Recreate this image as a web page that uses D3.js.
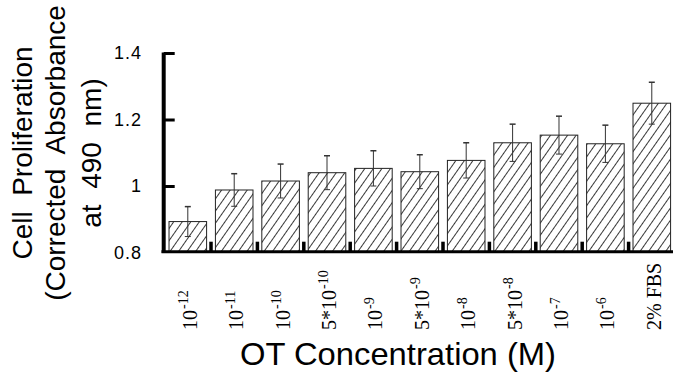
<!DOCTYPE html>
<html>
<head>
<meta charset="utf-8">
<script src="https://cdn.jsdelivr.net/npm/d3@7"></script>
<style>
  body { margin: 0; background: #fff; }
  svg { display: block; }
</style>
</head>
<body>
<svg id="chart" width="673" height="373"></svg>
<script>
// concentrations on the x axis: base text + superscript
var categories = ["1e-12", "1e-11", "1e-10", "5e-10", "1e-9", "5e-9", "1e-8", "5e-8", "1e-7", "1e-6", "FBS"];
var labelBase = ["10", "10", "10", "5*10", "10", "5*10", "10", "5*10", "10", "10", "2% FBS"];
var labelSup = ["-12", "-11", "-10", "-10", "-9", "-9", "-8", "-8", "-7", "-6", ""];
// corrected absorbance, mean and error
var means = [0.893, 0.988, 1.015, 1.040, 1.053, 1.043, 1.077, 1.130, 1.153, 1.127, 1.249];
var errors = [0.045, 0.049, 0.051, 0.051, 0.053, 0.051, 0.053, 0.056, 0.057, 0.056, 0.063];
var yTicks = [0.8, 1, 1.2, 1.4];
var yTitle = ["Cell  Proliferation", "(Corrected  Absorbance", "at  490  nm)"];
var xTitle = "OT Concentration (M)";

var svg = d3.select("#chart");

var x = d3.scaleBand()
    .domain(categories)
    .range([160.2, 679.4])
    .paddingInner(0.19)
    .paddingOuter(0.19);

var y = d3.scaleLinear()
    .domain([0.8, 1.4])
    .range([252.5, 53]);

// hatch pattern
var defs = svg.append("defs");
defs.append("pattern")
    .attr("id", "hatch")
    .attr("patternUnits", "userSpaceOnUse")
    .attr("width", 7)
    .attr("height", 7)
    .attr("patternTransform", "rotate(35)")
  .append("line")
    .attr("x1", 3.5).attr("y1", -1)
    .attr("x2", 3.5).attr("y2", 8)
    .style("stroke", "#222")
    .style("stroke-width", 0.9);

var g_bars = svg.append("g");
g_bars.selectAll("rect")
    .data(means)
    .enter().append("rect")
    .attr("x", function(d, i) { return x(categories[i]); })
    .attr("y", function(d) { return y(d); })
    .attr("width", x.bandwidth())
    .attr("height", function(d) { return y(0.8) - y(d); })
    .style("fill", "url(#hatch)")
    .style("stroke", "#222")
    .style("stroke-width", 1);

// error bars
var g_err = svg.append("g")
    .style("stroke", "#333")
    .style("stroke-width", 1);
means.forEach(function(m, i) {
    var cx = x(categories[i]) + x.bandwidth() / 2;
    var top = y(m + errors[i]), bot = y(m - errors[i]);
    g_err.append("line").attr("x1", cx).attr("x2", cx).attr("y1", top).attr("y2", bot);
    g_err.append("line").attr("x1", cx - 3).attr("x2", cx + 3).attr("y1", top).attr("y2", top)
        .style("stroke-width", 1.5);
    g_err.append("line").attr("x1", cx - 3).attr("x2", cx + 3).attr("y1", bot).attr("y2", bot);
});

// small black marks between bars
var gap = x.step() * x.paddingInner();
var g_marks = svg.append("g");
g_marks.selectAll("rect")
    .data(categories.slice(1))
    .enter().append("rect")
    .attr("x", function(d) { return x(d) - gap / 2 - 1.75; })
    .attr("y", 241.7)
    .attr("width", 3.5)
    .attr("height", 10)
    .style("fill", "#000");

// axes lines
svg.append("line")
    .attr("x1", 161.5).attr("x2", 673)
    .attr("y1", 251.7).attr("y2", 251.7)
    .style("stroke", "#000").style("stroke-width", 3);
svg.append("line")
    .attr("x1", 163.7).attr("x2", 163.7)
    .attr("y1", y(1.4) - 0.5).attr("y2", 253)
    .style("stroke", "#000").style("stroke-width", 4);

var yAxis = d3.axisRight(y)
    .tickValues(yTicks.slice(1))
    .tickSize(11)
    .tickFormat("");
var g_y = svg.append("g")
    .attr("transform", "translate(163.7,0)")
    .call(yAxis);
g_y.select(".domain").remove();
g_y.selectAll(".tick line").style("stroke", "#000").style("stroke-width", 3);

// y tick labels
svg.append("g").selectAll("text")
    .data(yTicks)
    .enter().append("text")
    .attr("x", 142)
    .attr("y", function(d) { return y(d); })
    .attr("dy", "0.35em")
    .attr("text-anchor", "end")
    .style("font-family", "Liberation Sans, Arial, sans-serif")
    .style("font-size", "18px")
    .style("letter-spacing", "1px")
    .text(function(d) { return d3.format("~g")(d); });

// x tick labels, rotated
var g_xl = svg.append("g")
    .style("font-family", "Liberation Serif, Times New Roman, serif");
categories.forEach(function(c, i) {
    var cx = x(c) + x.bandwidth() / 2;
    var t = g_xl.append("text")
        .attr("transform", "translate(" + (cx + 9) + ",330) rotate(-90)")
        .style("font-size", "20px");
    t.append("tspan").text(labelBase[i]);
    if (labelSup[i]) {
        t.append("tspan")
            .attr("dx", "1")
            .attr("dy", "-0.6em")
            .style("font-size", "14px")
            .text(labelSup[i]);
    }
});

// y title
var baseX = [32, 65, 101];
var g_yt = svg.append("g")
    .style("font-family", "Liberation Sans, Arial, sans-serif")
    .style("font-size", "28px");
yTitle.forEach(function(s, i) {
    g_yt.append("text")
        .attr("transform", "translate(" + baseX[i] + ",153) rotate(-90)")
        .attr("text-anchor", "middle")
        .style("white-space", "pre")
        .text(s);
});

// x title
svg.append("text")
    .attr("x", 398)
    .attr("y", 365)
    .attr("text-anchor", "middle")
    .style("font-family", "Liberation Sans, Arial, sans-serif")
    .style("font-size", "32px")
    .attr("textLength", 316)
    .attr("lengthAdjust", "spacingAndGlyphs")
    .text(xTitle);
</script>
</body>
</html>
